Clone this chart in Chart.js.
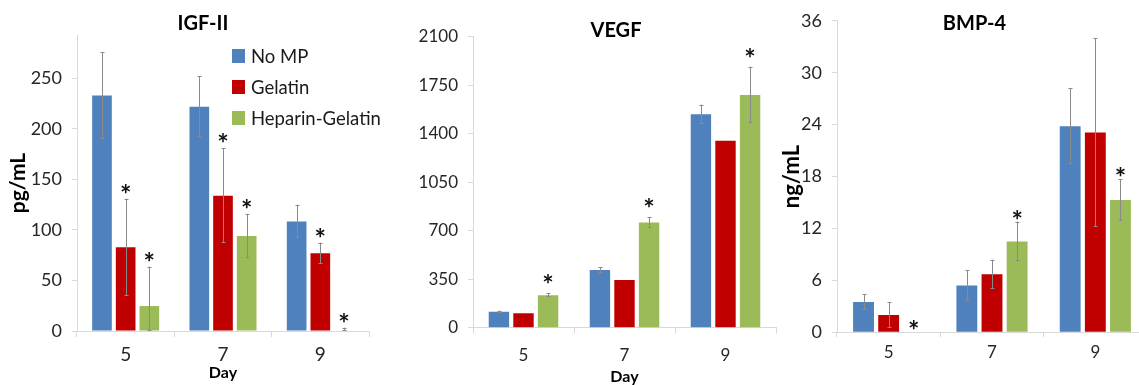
<!DOCTYPE html>
<html><head><meta charset="utf-8">
<script src="https://cdn.jsdelivr.net/npm/chart.js@4.4.0/dist/chart.umd.min.js"></script>
<style>
html,body{margin:0;padding:0;background:#fff;overflow:hidden;width:1139px;height:385px;}
#stage{position:relative;width:1139px;height:385px;overflow:hidden;background:#fff;}
canvas{position:absolute;top:0;}
#legend{position:absolute;left:232px;top:40px;font-family:Lato,sans-serif;font-size:18.5px;color:#1a1a1a;}
.item{display:flex;align-items:center;height:31px;white-space:nowrap;}
.sw{width:13px;height:14px;margin-right:6px;flex:none;}
</style></head><body>
<div id="stage">
<canvas id="c1" width="380" height="385" style="left:0"></canvas>
<canvas id="c2" width="410" height="385" style="left:380px"></canvas>
<canvas id="c3" width="400" height="385" style="left:770px"></canvas>
<div id="legend"></div>
</div>
<script>
// ---------- data ----------
const days = ['5', '7', '9'];
const seriesNames = ['No MP', 'Gelatin', 'Heparin-Gelatin'];

// IGF-II (pg/mL)
const igfNoMP        = [233, 222, 108.5];
const igfNoMPErr     = [43, 30, 16.5];
const igfGelatin     = [83, 134, 77];
const igfGelatinErr  = [48, 47, 10.5];
const igfHeparin     = [24.7, 94, 0.5];
const igfHeparinErr  = [39, 22, 2.8];
const igfNoMPSig     = [false, false, false];
const igfGelatinSig  = [true, true, true];
const igfHeparinSig  = [true, true, true];
const igfTicks       = [0, 50, 100, 150, 200, 250];

// VEGF
const vegfNoMP       = [115, 416, 1540];
const vegfNoMPErr    = [8, 20, 70];
const vegfGelatin    = [104, 344, 1350];
const vegfGelatinErr = [null, null, null];
const vegfHeparin    = [234, 760, 1679];
const vegfHeparinErr = [14, 40, 205];
const vegfNoMPSig    = [false, false, false];
const vegfGelatinSig = [false, false, false];
const vegfHeparinSig = [true, true, true];
const vegfTicks      = [0, 350, 700, 1050, 1400, 1750, 2100];

// BMP-4 (ng/mL)
const bmpNoMP        = [3.5, 5.4, 23.8];
const bmpNoMPErr     = [0.9, 1.75, 4.4];
const bmpGelatin     = [2.0, 6.7, 23.1];
const bmpGelatinErr  = [1.5, 1.7, 10.9];
const bmpHeparin     = [0, 10.5, 15.3];
const bmpHeparinErr  = [null, 2.3, 2.4];
const bmpNoMPSig     = [false, false, false];
const bmpGelatinSig  = [false, false, false];
const bmpHeparinSig  = [true, true, true];
const bmpTicks       = [0, 6, 12, 18, 24, 30, 36];

// ---------- styles ----------
const COLORS = ['#4F81BD', '#C00000', '#9BBB59'];
const AXIS = '#D9D9D9';
const TXT = '#262626';

const decor = {
  id: 'decor',
  afterDatasetsDraw(chart, args, o) {
    const ctx = chart.ctx, ys = chart.scales.y;
    ctx.save();
    chart.data.datasets.forEach((ds, i) => {
      const meta = chart.getDatasetMeta(i);
      meta.data.forEach((bar, j) => {
        const v = ds.data[j], e = ds.err[j];
        let topVal = v;
        const x = Math.round(bar.x) + 0.5;
        if (e != null) {
          const yt = ys.getPixelForValue(v + e);
          const yb = ys.getPixelForValue(Math.max(v - e, 0));
          ctx.strokeStyle = o.errColor; ctx.lineWidth = 1;
          ctx.beginPath();
          ctx.moveTo(x, yt); ctx.lineTo(x, yb);
          ctx.moveTo(x - 2, Math.round(yt) + 0.5); ctx.lineTo(x + 2, Math.round(yt) + 0.5);
          ctx.moveTo(x - 2, Math.round(yb) - 0.5); ctx.lineTo(x + 2, Math.round(yb) - 0.5);
          ctx.stroke();
          topVal = v + e;
        }
        if (ds.sig[j]) {
          ctx.font = o.starFont; ctx.fillStyle = '#111';
          ctx.textAlign = 'center'; ctx.textBaseline = 'alphabetic';
          const m = ctx.measureText('*');
          const cy = ys.getPixelForValue(topVal) - o.starGap;
          ctx.fillText('*', bar.x, cy + (m.actualBoundingBoxAscent - m.actualBoundingBoxDescent) / 2);
        }
      });
    });
    ctx.font = o.titleFont; ctx.fillStyle = '#000';
    ctx.textAlign = 'center'; ctx.textBaseline = 'alphabetic';
    ctx.fillText(o.title, o.titleX, o.titleY);
    ctx.restore();
  }
};

function makeChart(id, p) {
  const datasets = p.series.map((s, i) => ({
    label: seriesNames[i],
    data: s.values,
    err: s.err,
    sig: s.sig,
    backgroundColor: COLORS[i],
    borderWidth: 0,
    categoryPercentage: p.catPct,
    barPercentage: p.barPct
  }));
  return new Chart(document.getElementById(id), {
    type: 'bar',
    data: { labels: days, datasets },
    options: {
      responsive: false, animation: false,
      layout: { padding: { left: 0, right: p.padRight, top: p.padTop, bottom: 0 } },
      plugins: {
        legend: { display: false }, tooltip: { enabled: false },
        decor: { title: p.title, titleX: p.titleX, titleY: p.titleY,
                 titleFont: 'bold 20px Lato', starFont: 'bold 27px Lato',
                 starGap: p.starGap, errColor: '#8a8a8a' }
      },
      scales: {
        x: {
          afterFit(s) { s.height = p.xHeight; },
          border: { display: true, color: AXIS, width: 1 },
          grid: { offset: true, drawOnChartArea: false, drawTicks: true, tickLength: p.xTickLen, color: AXIS },
          ticks: { font: { family: 'Lato', size: p.xFont }, color: TXT, padding: p.xPad, maxRotation: 0 },
          title: { display: !!p.xTitle, text: p.xTitle, color: '#000',
                   font: { family: 'Lato', weight: 'bold', size: 16 }, padding: { top: 0, bottom: p.xTitlePad } }
        },
        y: {
          min: 0, max: p.yMax,
          afterFit(s) { s.width = p.yWidth; },
          afterBuildTicks(s) { s.ticks = p.ticks.map(v => ({ value: v })); },
          border: { display: true, color: AXIS, width: 1 },
          grid: { drawOnChartArea: false, drawTicks: true, tickLength: 5, color: AXIS },
          ticks: { font: { family: 'Lato', size: p.yFont }, color: TXT, padding: 10,
                   callback: v => String(v) },
          title: { display: !!p.yTitle, text: p.yTitle, color: '#000',
                   font: { family: 'Lato', weight: 'bold', size: p.yTitleSize }, padding: { top: p.yTitlePad, bottom: 0 } }
        }
      }
    },
    plugins: [decor]
  });
}

const c1 = makeChart('c1', {
  series: [
    { values: igfNoMP, err: igfNoMPErr, sig: igfNoMPSig },
    { values: igfGelatin, err: igfGelatinErr, sig: igfGelatinSig },
    { values: igfHeparin, err: igfHeparinErr, sig: igfHeparinSig }
  ],
  ticks: igfTicks, yMax: 293, title: 'IGF-II', titleX: 203, titleY: 29.5,
  yTitle: 'pg/mL', yTitleSize: 21, yTitlePad: 5.4, yFont: 18,
  xTitle: 'Day', xTitlePad: 3, xFont: 19, xTickLen: 6, xPad: 6,
  padRight: 11, padTop: 35, yWidth: 77, xHeight: 54,
  catPct: 0.73, barPct: 0.83, starGap: 10
});
const c2 = makeChart('c2', {
  series: [
    { values: vegfNoMP, err: vegfNoMPErr, sig: vegfNoMPSig },
    { values: vegfGelatin, err: vegfGelatinErr, sig: vegfGelatinSig },
    { values: vegfHeparin, err: vegfHeparinErr, sig: vegfHeparinSig }
  ],
  ticks: vegfTicks, yMax: 2100, title: 'VEGF', titleX: 236, titleY: 37.3,
  yTitle: '', yTitleSize: 20, yTitlePad: 0, yFont: 17,
  xTitle: 'Day', xTitlePad: -1, xFont: 17, xTickLen: 6, xPad: 11.6,
  padRight: 14, padTop: 36.7, yWidth: 93, xHeight: 57.3,
  catPct: 0.73, barPct: 0.83, starGap: 14
});
const c3 = makeChart('c3', {
  series: [
    { values: bmpNoMP, err: bmpNoMPErr, sig: bmpNoMPSig },
    { values: bmpGelatin, err: bmpGelatinErr, sig: bmpGelatinSig },
    { values: bmpHeparin, err: bmpHeparinErr, sig: bmpHeparinSig }
  ],
  ticks: bmpTicks, yMax: 36, title: 'BMP-4', titleX: 204.5, titleY: 30,
  yTitle: 'ng/mL', yTitleSize: 22, yTitlePad: 8.8, yFont: 18,
  xTitle: '', xTitlePad: 0, xFont: 17, xTickLen: 5, xPad: 5,
  padRight: 23, padTop: 11.7, yWidth: 67, xHeight: 52.7,
  catPct: 0.73, barPct: 0.83, starGap: 7
});

// legend built from the first chart's datasets
const lg = document.getElementById('legend');
c1.data.datasets.forEach(ds => {
  const row = document.createElement('div'); row.className = 'item';
  const sw = document.createElement('span'); sw.className = 'sw'; sw.style.background = ds.backgroundColor;
  const tx = document.createElement('span'); tx.textContent = ds.label;
  row.appendChild(sw); row.appendChild(tx); lg.appendChild(row);
});
</script>
</body></html>
